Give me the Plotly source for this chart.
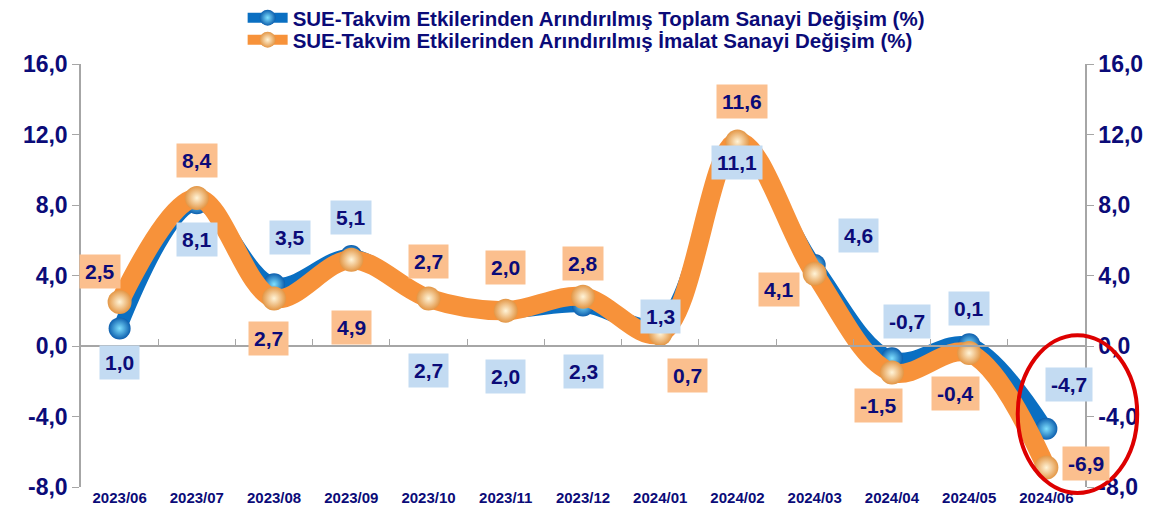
import plotly.graph_objects as go

categories = ["2023/06", "2023/07", "2023/08", "2023/09", "2023/10", "2023/11", "2023/12",
              "2024/01", "2024/02", "2024/03", "2024/04", "2024/05", "2024/06"]
toplam = [1.0, 8.1, 3.5, 5.1, 2.7, 2.0, 2.3, 1.3, 11.1, 4.6, -0.7, 0.1, -4.7]
imalat = [2.5, 8.4, 2.7, 4.9, 2.7, 2.0, 2.8, 0.7, 11.6, 4.1, -1.5, -0.4, -6.9]
name_toplam = "SUE-Takvim Etkilerinden Arındırılmış Toplam Sanayi Değişim (%)"
name_imalat = "SUE-Takvim Etkilerinden Arındırılmış İmalat Sanayi Değişim (%)"
ytick_vals = [-8, -4, 0, 4, 8, 12, 16]
ytick_text = ["-8,0", "-4,0", "0,0", "4,0", "8,0", "12,0", "16,0"]

# label offsets in pixels (x shift, y shift)
toplam_off = [(0, -34), (0, -36), (16, 47), (0, 39), (0, -72), (0, -66), (0, -66),
              (0, 7), (0, -12), (44, 29), (15, 37), (0, 36), (23, 44)]
imalat_off = [(-20, 30), (0, 37), (-6, -40), (0, -68), (0, 37), (0, 43), (0, 33),
              (27, -42), (5, 40), (-36, -16), (-13, -33), (-14, -40), (40, 4)]

NAVY = "#0b0b78"
xi = list(range(len(categories)))

fig = go.Figure()
fig.add_trace(go.Scatter(
    x=xi, y=toplam, name=name_toplam, mode="lines+markers", legend="legend",
    line=dict(color="#0a6fc2", width=14, shape="spline", smoothing=1.0),
    marker=dict(size=22, color="#0d5fae", gradient=dict(type="radial", color="#7fe0ff"),
                line=dict(width=0)),
))
fig.add_trace(go.Scatter(
    x=xi, y=imalat, name=name_imalat, mode="lines+markers", legend="legend2",
    line=dict(color="#f7923a", width=19, shape="spline", smoothing=1.0),
    marker=dict(size=24, color="#e39645", gradient=dict(type="radial", color="#fff4d8"),
                line=dict(width=0)),
))
# dummy trace to hold the zero-crossing category axis
fig.add_trace(go.Scatter(x=[None], y=[None], xaxis="x2", yaxis="y", showlegend=False,
                         hoverinfo="skip"))
# dummy trace for right axis
fig.add_trace(go.Scatter(x=[None], y=[None], xaxis="x", yaxis="y2", showlegend=False,
                         hoverinfo="skip"))

def fmt(v):
    return f"{v:.1f}".replace(".", ",")

annotations = []
for i, v in enumerate(toplam):
    dx, dy = toplam_off[i]
    annotations.append(dict(x=i, y=v, xref="x", yref="y", text=fmt(v), showarrow=False,
                            xshift=dx, yshift=dy, bgcolor="#c3dbf2", borderpad=5,
                            font=dict(family="Arial", size=21, color=NAVY, weight="bold")))
for i, v in enumerate(imalat):
    dx, dy = imalat_off[i]
    annotations.append(dict(x=i, y=v, xref="x", yref="y", text=fmt(v), showarrow=False,
                            xshift=dx, yshift=dy, bgcolor="#fbbf8e", borderpad=5,
                            font=dict(family="Arial", size=21, color=NAVY, weight="bold")))

axis_font = dict(family="Arial", size=23, color=NAVY, weight="bold")
legend_font = dict(family="Arial", size=20.5, color=NAVY, weight="bold")
leg_common = dict(x=0.161, xanchor="left", yanchor="middle", orientation="v",
                  font=legend_font, bgcolor="rgba(0,0,0,0)", itemwidth=40,
                  borderwidth=0)
fig.update_layout(
    width=1162, height=517,
    margin=dict(l=73, r=85, t=56, b=38, autoexpand=False),
    paper_bgcolor="white", plot_bgcolor="white",
    showlegend=True,
    legend=dict(y=1.109, **leg_common),
    legend2=dict(y=1.057, **leg_common),
    xaxis=dict(range=[-0.5, 12.5], tickmode="array", tickvals=xi, ticktext=categories,
               showline=False, ticks="", showgrid=False, zeroline=False,
               tickfont=dict(family="Arial", size=15, color=NAVY, weight="bold")),
    xaxis2=dict(overlaying="x", anchor="free", position=8 / 24, range=[-0.5, 12.5],
                tickmode="array", tickvals=[i - 0.5 for i in range(len(categories) + 1)],
                showticklabels=False, ticks="inside", ticklen=6, tickcolor="#a6a6a6",
                showline=True, linecolor="#a6a6a6", linewidth=1.5, showgrid=False,
                zeroline=False),
    yaxis=dict(range=[-8, 16], tickmode="array", tickvals=ytick_vals, ticktext=ytick_text,
               showgrid=False, zeroline=False, showline=True, linecolor="#a6a6a6",
               linewidth=1.5, ticks="outside", ticklen=7, tickcolor="#a6a6a6",
               tickfont=axis_font),
    yaxis2=dict(range=[-8, 16], tickmode="array", tickvals=ytick_vals, ticktext=ytick_text,
                overlaying="y", side="right", showgrid=False, zeroline=False,
                showline=True, linecolor="#a6a6a6", linewidth=1.5, ticks="outside",
                ticklen=7, tickcolor="#a6a6a6", tickfont=axis_font),
    annotations=annotations,
    shapes=[dict(type="circle", xref="paper", yref="paper", x0=0.933, x1=1.052,
                 y0=-0.014, y1=0.359, line=dict(color="#dd0000", width=4),
                 layer="above")],
)

fig.write_html("out.html")
